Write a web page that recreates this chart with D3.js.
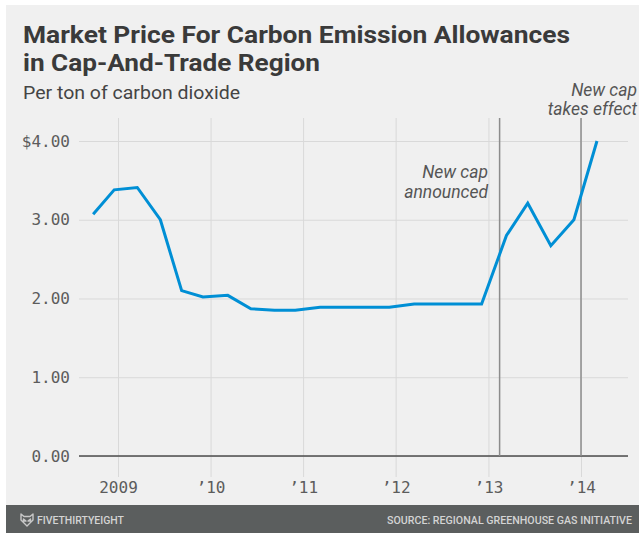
<!DOCTYPE html>
<html>
<head>
<meta charset="utf-8">
<script src="https://cdn.jsdelivr.net/npm/d3@7"></script>
<style>
  html, body { margin: 0; padding: 0; background: #ffffff; }
  svg { display: block; }
</style>
</head>
<body>
<svg id="chart" width="639" height="533"></svg>
<script>
// ---- Data ----
const auctionDates = [
  "2008-09-25", "2008-12-17", "2009-03-18", "2009-06-17", "2009-09-09", "2009-12-02",
  "2010-03-10", "2010-06-09", "2010-09-10", "2010-12-01", "2011-03-09", "2011-06-08",
  "2011-09-07", "2011-12-07", "2012-03-14", "2012-06-06", "2012-09-05", "2012-12-05",
  "2013-03-13", "2013-06-05", "2013-09-04", "2013-12-04", "2014-03-05"
];
const prices = [
  3.07, 3.38, 3.41, 3.00, 2.10, 2.02,
  2.04, 1.87, 1.85, 1.85, 1.89, 1.89,
  1.89, 1.89, 1.93, 1.93, 1.93, 1.93,
  2.80, 3.21, 2.67, 3.00, 4.00
];
const xTickDates = ["2009-01-01", "2010-01-01", "2011-01-01", "2012-01-01", "2013-01-01", "2014-01-01"];
const xTickLabels = ["2009", "\u201910", "\u201911", "\u201912", "\u201913", "\u201914"];
const yTicks = [0, 1, 2, 3, 4];
const yTickLabels = ["0.00", "1.00", "2.00", "3.00", "$4.00"];
const eventDates = ["2013-02-14", "2014-01-01"];
const eventLabels = [["New cap", "announced"], ["New cap", "takes effect"]];

const title1 = "Market Price For Carbon Emission Allowances";
const title2 = "in Cap-And-Trade Region";
const subtitle = "Per ton of carbon dioxide";
const footerLeft = "FIVETHIRTYEIGHT";
const footerRight = "SOURCE: REGIONAL GREENHOUSE GAS INITIATIVE";

// ---- Setup ----
const parse = d3.utcParse("%Y-%m-%d");
const data = auctionDates.map((d, i) => ({ date: parse(d), value: prices[i] }));

const svg = d3.select("#chart");
const W = 639, H = 533;

// background panel
svg.append("rect").attr("x", 6).attr("y", 5).attr("width", W - 6).attr("height", H - 5).attr("fill", "#f0f0f0");

const plotLeft = 79, plotRight = 628, plotTop = 118, plotBottom = 456, tickBottom = 477;

const x = d3.scaleUtc()
  .domain([parse("2009-01-01"), parse("2014-01-01")])
  .range([118, 581]);
const y = d3.scaleLinear().domain([0, 4]).range([plotBottom, 141]);

// ---- Title ----
svg.append("text").attr("x", 23).attr("y", 43)
  .attr("font-family", "Roboto, sans-serif").attr("font-weight", 700).attr("font-size", 24)
  .attr("fill", "#3a3a3a").attr("textLength", 547).attr("lengthAdjust", "spacingAndGlyphs")
  .text(title1);
svg.append("text").attr("x", 23).attr("y", 71)
  .attr("font-family", "Roboto, sans-serif").attr("font-weight", 700).attr("font-size", 24)
  .attr("fill", "#3a3a3a").attr("textLength", 297).attr("lengthAdjust", "spacingAndGlyphs")
  .text(title2);
svg.append("text").attr("x", 23).attr("y", 99)
  .attr("font-family", "Roboto, sans-serif").attr("font-weight", 400).attr("font-size", 18)
  .attr("fill", "#444").attr("textLength", 217).attr("lengthAdjust", "spacingAndGlyphs")
  .text(subtitle);

// ---- Y axis / horizontal grid ----
const yAxis = d3.axisLeft(y)
  .tickValues(yTicks)
  .tickFormat((d, i) => yTickLabels[i])
  .tickSize(-(plotRight - plotLeft))
  .tickPadding(9);
const gy = svg.append("g").attr("transform", `translate(${plotLeft},0)`).call(yAxis);
gy.select(".domain").remove();
gy.selectAll(".tick line").attr("stroke", "#d9d9d9").attr("stroke-width", 1);
gy.selectAll(".tick text")
  .attr("font-family", "'DejaVu Sans Mono', monospace").attr("font-size", 16)
  .attr("fill", "#5c5c5c");

// ---- X axis / vertical grid ----
const xAxis = d3.axisBottom(x)
  .tickValues(xTickDates.map(parse))
  .tickFormat((d, i) => xTickLabels[i])
  .tickSize(-(tickBottom - plotTop))
  .tickPadding(5);
const gx = svg.append("g").attr("transform", `translate(0,${tickBottom})`).call(xAxis);
gx.select(".domain").remove();
gx.selectAll(".tick line").attr("stroke", "#d9d9d9").attr("stroke-width", 1);
gx.selectAll(".tick text")
  .attr("font-family", "'DejaVu Sans Mono', monospace").attr("font-size", 16)
  .attr("fill", "#5c5c5c");

// baseline
svg.append("line").attr("x1", plotLeft).attr("x2", plotRight)
  .attr("y1", y(0)).attr("y2", y(0)).attr("stroke", "#4d4d4d").attr("stroke-width", 1.5);

// ---- Event lines ----
eventDates.forEach((d, i) => {
  const ex = x(parse(d));
  svg.append("line").attr("x1", ex).attr("x2", ex).attr("y1", plotTop).attr("y2", y(0))
    .attr("stroke", "#8c8c8c").attr("stroke-width", 1.5);
});
const annRight = [488, 637];
const annBase = [178, 95.5];
eventLabels.forEach((lines, i) => {
  lines.forEach((t, j) => {
    svg.append("text").attr("x", annRight[i]).attr("y", annBase[i] + j * 19.5)
      .attr("text-anchor", "end")
      .attr("font-family", "Roboto, sans-serif").attr("font-style", "italic").attr("font-size", 17.5)
      .attr("fill", "#555").text(t);
  });
});

// ---- Line ----
const line = d3.line().x(d => x(d.date)).y(d => y(d.value));
svg.append("path").datum(data).attr("d", line)
  .attr("fill", "none").attr("stroke", "#008fd5").attr("stroke-width", 3)
  .attr("stroke-linejoin", "miter").attr("stroke-linecap", "butt");

// ---- Footer ----
svg.append("rect").attr("x", 6).attr("y", 505).attr("width", W - 6).attr("height", H - 505).attr("fill", "#5b5e5e");
// fox icon
svg.append("path")
  .attr("d", "M21,514 L24,516.5 L30,516.5 L33,514 L33,520 L27,526 L21,520 Z M23.5,519 L26,521 L23.5,521 Z M30.5,519 L28,521 L30.5,521 Z")
  .attr("fill", "none").attr("stroke", "#c8c8c8").attr("stroke-width", 1.4).attr("stroke-linejoin", "round");
svg.append("text").attr("x", 37).attr("y", 524)
  .attr("font-family", "Roboto, sans-serif").attr("font-weight", 500).attr("font-size", 11)
  .attr("fill", "#d4d4d4").attr("textLength", 87).attr("lengthAdjust", "spacingAndGlyphs")
  .text(footerLeft);
svg.append("text").attr("x", 387).attr("y", 524)
  .attr("font-family", "Roboto, sans-serif").attr("font-weight", 500).attr("font-size", 11)
  .attr("fill", "#d4d4d4").attr("textLength", 245).attr("lengthAdjust", "spacingAndGlyphs")
  .text(footerRight);
</script>
</body>
</html>
